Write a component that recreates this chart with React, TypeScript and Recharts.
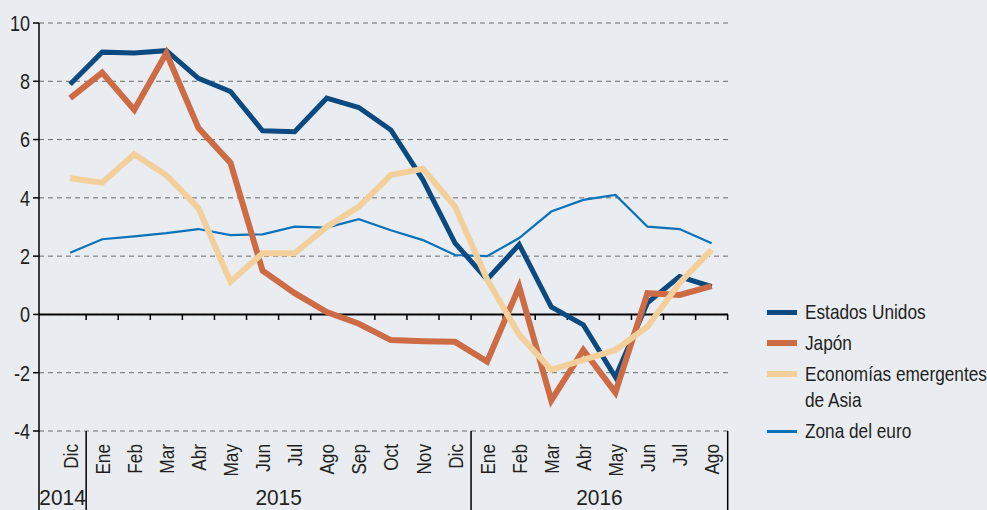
import { LineChart, Line, XAxis, YAxis, CartesianGrid, ReferenceLine } from 'recharts';

const MONTHS = ['Dic', 'Ene', 'Feb', 'Mar', 'Abr', 'May', 'Jun', 'Jul', 'Ago', 'Sep', 'Oct', 'Nov', 'Dic', 'Ene', 'Feb', 'Mar', 'Abr', 'May', 'Jun', 'Jul', 'Ago'];
const YEARS = ['2014', '2015', '2016'];
const MONTHS_PER_YEAR = [1, 12, 8];

const ESTADOS_UNIDOS = [7.9, 9.0, 8.97, 9.05, 8.1, 7.65, 6.3, 6.27, 7.42, 7.1, 6.33, 4.62, 2.45, 1.2, 2.4, 0.26, -0.36, -2.15, 0.4, 1.3, 0.95];
const JAPON = [7.42, 8.3, 7.02, 8.97, 6.4, 5.2, 1.5, 0.73, 0.08, -0.32, -0.88, -0.92, -0.94, -1.62, 0.95, -2.95, -1.22, -2.68, 0.73, 0.67, 0.97];
const ASIA = [4.67, 4.52, 5.5, 4.78, 3.65, 1.12, 2.1, 2.1, 3.0, 3.7, 4.78, 5.0, 3.7, 1.2, -0.7, -1.9, -1.56, -1.22, -0.42, 1.08, 2.22];
const EURO = [2.12, 2.58, 2.68, 2.79, 2.93, 2.72, 2.75, 3.01, 2.98, 3.27, 2.89, 2.55, 2.04, 2.0, 2.62, 3.53, 3.93, 4.1, 3.01, 2.93, 2.44];

const Y_TICKS = [-4, -2, 0, 2, 4, 6, 8, 10];

const FONT = "'Liberation Sans', Arial, sans-serif";
const NARROW = 0.82; // squeeze Liberation Sans to look like a condensed face
const TEXT = '#231f20';
const BG = '#e9edf2';
const X_MIN = -0.97;
const X_MAX = 20.51;

const SERIES = [
  { key: 'euro', name: 'Zona del euro', color: '#0a72b9', width: 2.2 },
  { key: 'us', name: 'Estados Unidos', color: '#0b4a80', width: 5 },
  { key: 'jp', name: 'Japón', color: '#cd6b45', width: 6 },
  { key: 'asia', name: 'Economías emergentes\nde Asia', color: '#f3d09b', width: 6 },
];
const LEGEND_ORDER = ['us', 'jp', 'asia', 'euro'];

const data = MONTHS.map((m, i) => ({
  x: i,
  us: ESTADOS_UNIDOS[i],
  jp: JAPON[i],
  asia: ASIA[i],
  euro: EURO[i],
}));

// boundaries between months (ticks on the zero line) and year separators
const boundaries = MONTHS.map((_, i) => i + 0.5);
const separators: number[] = [];
const yearCenters: { value: number; label: string }[] = [];
let start = 0;
MONTHS_PER_YEAR.forEach((n, k) => {
  const end = start + n - 1;
  const left = start === 0 ? X_MIN : start - 0.5;
  separators.push(end + 0.5);
  yearCenters.push({ value: (left + end + 0.5) / 2, label: YEARS[k] });
  start += n;
});

const tickInfo = new Map<number, { kind: string; label?: string }>();
MONTHS.forEach((m, i) => tickInfo.set(i, { kind: 'month', label: m }));
separators.forEach((s) => tickInfo.set(s, { kind: 'sep' }));
yearCenters.forEach((y) => tickInfo.set(y.value, { kind: 'year', label: y.label }));
tickInfo.set(X_MIN, { kind: 'sep' });
const xTicks = Array.from(tickInfo.keys()).sort((a, b) => a - b);

const XTick = (props: any) => {
  const { x, y, payload } = props;
  const info = tickInfo.get(payload.value);
  if (!info) return null;
  if (info.kind === 'sep') {
    return <line x1={x} x2={x} y1={y} y2={y + 79} stroke="#000" strokeWidth={1.5} />;
  }
  if (info.kind === 'year') {
    return (
      <text transform={`translate(${x},${y + 74}) scale(0.95,1)`} textAnchor="middle" fontSize={22} fill={TEXT} fontFamily={FONT}>
        {info.label}
      </text>
    );
  }
  return (
    <text transform={`translate(${x},${y + 13}) rotate(-90) scale(${NARROW},1)`} textAnchor="end" dy="0.36em" fontSize={21} fill={TEXT} fontFamily={FONT}>
      {info.label}
    </text>
  );
};

const YTick = (props: any) => {
  const { x, y, payload } = props;
  return (
    <text transform={`translate(${x},${y}) scale(${NARROW},1)`} textAnchor="end" dy="0.36em" fontSize={22} fill={TEXT} fontFamily={FONT}>
      {payload.value}
    </text>
  );
};

export default function App() {
  return (
    <div style={{ position: 'absolute', left: 0, top: 0, width: 987, height: 510, background: BG, fontFamily: FONT, overflow: 'hidden' }}>
      <LineChart width={987} height={510} data={data} margin={{ top: 23, right: 259, bottom: 0, left: 0 }}>
        <CartesianGrid vertical={false} stroke="#6b6b6b" strokeDasharray="5 4" />
        <XAxis
          dataKey="x"
          type="number"
          domain={[X_MIN, X_MAX]}
          allowDataOverflow
          ticks={xTicks}
          interval={0}
          axisLine={false}
          tickLine={false}
          tickSize={0}
          tickMargin={0}
          height={79}
          tick={(p: any) => <XTick {...p} />}
        />
        <YAxis
          type="number"
          domain={[-4, 10]}
          ticks={Y_TICKS}
          width={39}
          interval={0}
          axisLine={{ stroke: '#000', strokeWidth: 1.5 }}
          tickLine={{ stroke: '#000', strokeWidth: 1.5 }}
          tickSize={6}
          tickMargin={3}
          tick={(p: any) => <YTick {...p} />}
        />
        <ReferenceLine y={0} stroke="#000" strokeWidth={2} />
        {boundaries.map((b) => (
          <ReferenceLine key={b} segment={[{ x: b, y: 0 }, { x: b, y: -0.19 }]} stroke="#000" strokeWidth={1.5} />
        ))}
        {SERIES.map((s) => (
          <Line
            key={s.key}
            type="linear"
            dataKey={s.key}
            name={s.name}
            stroke={s.color}
            strokeWidth={s.width}
            strokeLinejoin="miter"
            dot={false}
            activeDot={false}
            isAnimationActive={false}
          />
        ))}
      </LineChart>
      <div style={{ position: 'absolute', left: 767, top: 299, display: 'flex', flexDirection: 'column', gap: 5 }}>
        {LEGEND_ORDER.map((k) => {
          const s = SERIES.find((d) => d.key === k)!;
          return (
            <div key={k} style={{ display: 'flex', alignItems: 'flex-start' }}>
              <div style={{ width: 30, height: 26, display: 'flex', alignItems: 'center', marginRight: 8 }}>
                <div style={{ width: 30, height: Math.max(3, s.width), background: s.color }} />
              </div>
              <div
                style={{
                  fontSize: 21,
                  lineHeight: '26px',
                  color: TEXT,
                  whiteSpace: 'pre',
                  transform: `scaleX(${NARROW})`,
                  transformOrigin: 'left center',
                }}
              >
                {s.name}
              </div>
            </div>
          );
        })}
      </div>
    </div>
  );
}
